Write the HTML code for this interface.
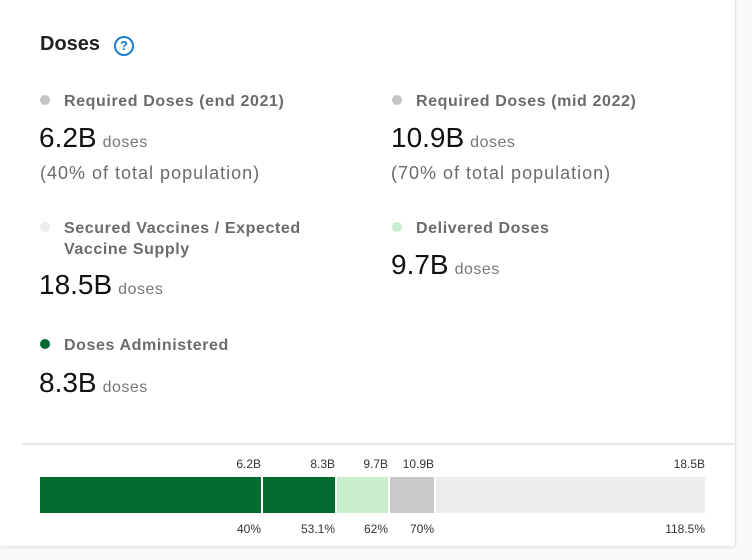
<!DOCTYPE html>
<html><head><style>
body{margin:0;width:752px;height:560px;background:#fafafa;position:relative;overflow:hidden;font-family:"Liberation Sans",sans-serif}
.card{position:absolute;left:0;top:0;width:735px;height:546px;background:#fff;border-right:1px solid #e2e2e2;box-shadow:0 2px 3px rgba(0,0,0,0.08)}
.a{position:absolute;white-space:nowrap}
.t{font-size:20px;font-weight:bold;color:#222}
.lab{font-size:16px;font-weight:bold;color:#6b6b6b;line-height:21px;letter-spacing:0.6px}
.dot{position:absolute;width:10px;height:10px;border-radius:50%}
.big{font-size:28px;color:#111}
.big span{font-size:16px;color:#777;margin-left:6px;letter-spacing:0.5px}
.sub{font-size:18px;color:#6b6b6b;letter-spacing:1px}
.sm{font-size:12px;color:#333;text-align:right}
.seg{position:absolute;top:477px;height:36px}
</style></head><body>
<div class="card"></div>
<div class="a t" style="left:40px;top:33px">Doses</div>
<div class="a" style="left:114px;top:36px;width:16px;height:16px;border:2px solid #1a7fd0;border-radius:50%;color:#1a7fd0;font-size:13px;font-weight:bold;text-align:center;line-height:16px">?</div>

<div class="dot" style="left:40px;top:95px;background:#c4c4c4"></div>
<div class="a lab" style="left:64px;top:91px">Required Doses (end 2021)</div>
<div class="a big" style="left:39px;top:122px">6.2B<span>doses</span></div>
<div class="a sub" style="left:40px;top:163px">(40% of total population)</div>

<div class="dot" style="left:392px;top:95px;background:#c4c4c4"></div>
<div class="a lab" style="left:416px;top:91px">Required Doses (mid 2022)</div>
<div class="a big" style="left:391px;top:122px">10.9B<span>doses</span></div>
<div class="a sub" style="left:391px;top:163px">(70% of total population)</div>

<div class="dot" style="left:40px;top:222px;background:#eeeeee"></div>
<div class="a lab" style="left:64px;top:218px">Secured Vaccines / Expected<br>Vaccine Supply</div>
<div class="a big" style="left:39px;top:269px">18.5B<span>doses</span></div>

<div class="dot" style="left:392px;top:222px;background:#c8eecd"></div>
<div class="a lab" style="left:416px;top:218px">Delivered Doses</div>
<div class="a big" style="left:391px;top:249px">9.7B<span>doses</span></div>

<div class="dot" style="left:40px;top:339px;background:#026b30"></div>
<div class="a lab" style="left:64px;top:335px">Doses Administered</div>
<div class="a big" style="left:39px;top:367px">8.3B<span>doses</span></div>

<div class="a" style="left:22px;top:443px;width:713px;height:2px;background:#e8e8e8"></div>

<div class="seg" style="left:40px;width:221px;background:#026b30"></div>
<div class="seg" style="left:263px;width:72px;background:#026b30"></div>
<div class="seg" style="left:337px;width:51px;background:#c8eecd"></div>
<div class="seg" style="left:390px;width:44px;background:#cacaca"></div>
<div class="seg" style="left:436px;width:269px;background:#ededed"></div>

<div class="a sm" style="right:491px;top:457px">6.2B</div>
<div class="a sm" style="right:417px;top:457px">8.3B</div>
<div class="a sm" style="right:364px;top:457px">9.7B</div>
<div class="a sm" style="right:318px;top:457px">10.9B</div>
<div class="a sm" style="right:47px;top:457px">18.5B</div>
<div class="a sm" style="right:491px;top:522px">40%</div>
<div class="a sm" style="right:417px;top:522px">53.1%</div>
<div class="a sm" style="right:364px;top:522px">62%</div>
<div class="a sm" style="right:318px;top:522px">70%</div>
<div class="a sm" style="right:47px;top:522px">118.5%</div>
</body></html>
